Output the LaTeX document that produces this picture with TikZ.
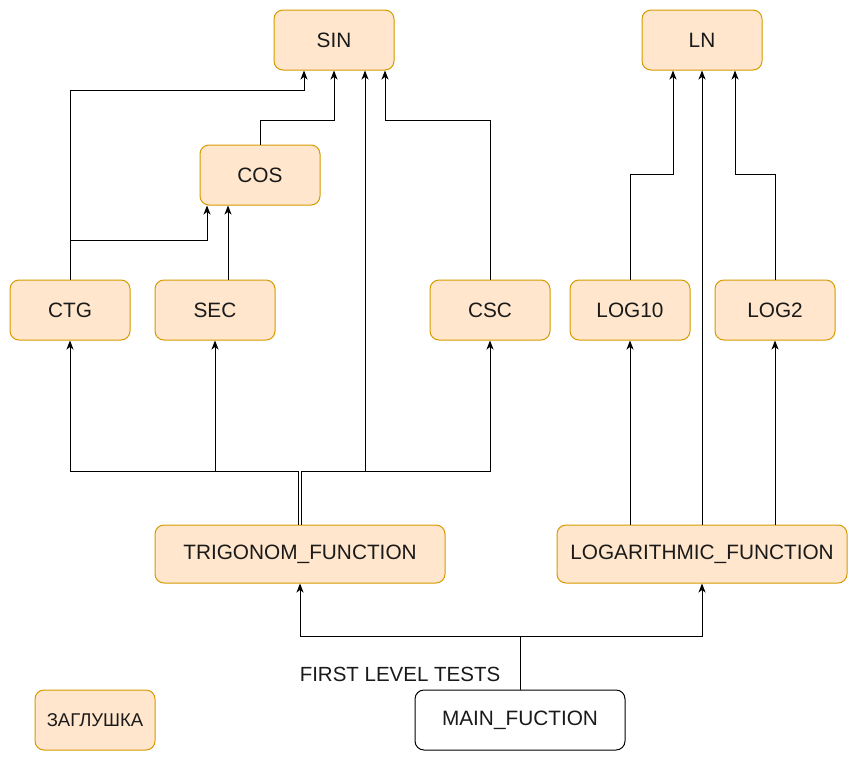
\documentclass[tikz,border=0pt]{standalone}
\usepackage{fontspec}
\setmainfont{Liberation Sans}
\usetikzlibrary{arrows.meta}
\definecolor{boxfill}{HTML}{FFE6CC}
\definecolor{boxdraw}{HTML}{D79B00}
\definecolor{txt}{HTML}{1A1A1A}
\tikzset{
  fbox/.style={draw=boxdraw, fill=boxfill, rounded corners=9pt, line width=1pt,
    minimum width=120pt, minimum height=60pt, inner sep=0pt, text=txt,
    font=\fontsize{20.8}{24}\selectfont},
  wbox/.style={fbox, draw=black, fill=white},
  arr/.style={draw=black, line width=1pt, -{Stealth[length=9pt,width=7pt,inset=2.5pt]}},
  ln/.style={draw=black, line width=1pt},
  lbl/.style={text=txt, font=\fontsize{20.5}{24}\selectfont, inner sep=0pt}
}
\begin{document}
\begin{tikzpicture}[x=1pt,y=-1pt]
\useasboundingbox[fill=white] (0,0) rectangle (858,761);
% nodes
\node[fbox] (sin) at (334,40) {SIN};
\node[fbox] (ln) at (702,40) {LN};
\node[fbox] (cos) at (260,175) {COS};
\node[fbox] (ctg) at (70,310) {CTG};
\node[fbox] (sec) at (215,310) {SEC};
\node[fbox] (csc) at (490,310) {CSC};
\node[fbox] (log10) at (630,310) {LOG10};
\node[fbox] (log2) at (775,310) {LOG2};
\node[fbox, minimum width=290pt, minimum height=58pt] (trig) at (300,554) {TRIGONOM\_FUNCTION};
\node[fbox, minimum width=290pt, minimum height=58pt] (logf) at (702,554) {LOGARITHMIC\_FUNCTION};
\node[fbox, font=\fontsize{18.5}{22}\selectfont] (stub) at (95,720) {ЗАГЛУШКА};
\node[wbox, minimum width=210pt] (main) at (520,720) {MAIN\_FUCTION};
\node[lbl] (flt) at (400,674) {FIRST LEVEL TESTS};
% helper coordinates
\coordinate (mj) at (520,636);
\coordinate (hy) at (0,471);
\coordinate (sinj) at (365,471);
% main -> first level
\draw[ln] (main.north) -- (mj);
\draw[arr] (mj) -| (trig.south);
\draw[arr] (mj) -| (logf.south);
% trigonom fan-out
\draw[arr] ([xshift=-1.5pt]trig.north) -- ([xshift=-1.5pt]trig.north |- hy) -| (ctg.south);
\draw[arr] ([xshift=1.5pt]trig.north) -- ([xshift=1.5pt]trig.north |- hy) -| (csc.south);
\draw[arr] (sec.south |- hy) -- (sec.south);
\draw[arr] (sinj) -- ([xshift=31pt]sin.south);
% second level
\draw[arr] (ctg.north) -- ([yshift=189pt]ctg.north) -| ([xshift=-30pt]sin.south);
\draw[arr] ([yshift=39pt]ctg.north) -| ([xshift=-53pt]cos.south);
\draw[arr] ([xshift=13pt]sec.north) -- ([xshift=-32pt]cos.south);
\draw[arr] (cos.north) -- ([yshift=24pt]cos.north) -| (sin.south);
\draw[arr] (csc.north) -- ([yshift=159pt]csc.north) -| ([xshift=51pt]sin.south);
% logarithmic
\draw[arr] (log10.south |- logf.north) -- (log10.south);
\draw[arr] (logf.north) -- (ln.south);
\draw[arr] (log2.south |- logf.north) -- (log2.south);
\draw[arr] (log10.north) -- ([yshift=105pt]log10.north) -| ([xshift=-29pt]ln.south);
\draw[arr] (log2.north) -- ([yshift=105pt]log2.north) -| ([xshift=33pt]ln.south);
\end{tikzpicture}
\end{document}
